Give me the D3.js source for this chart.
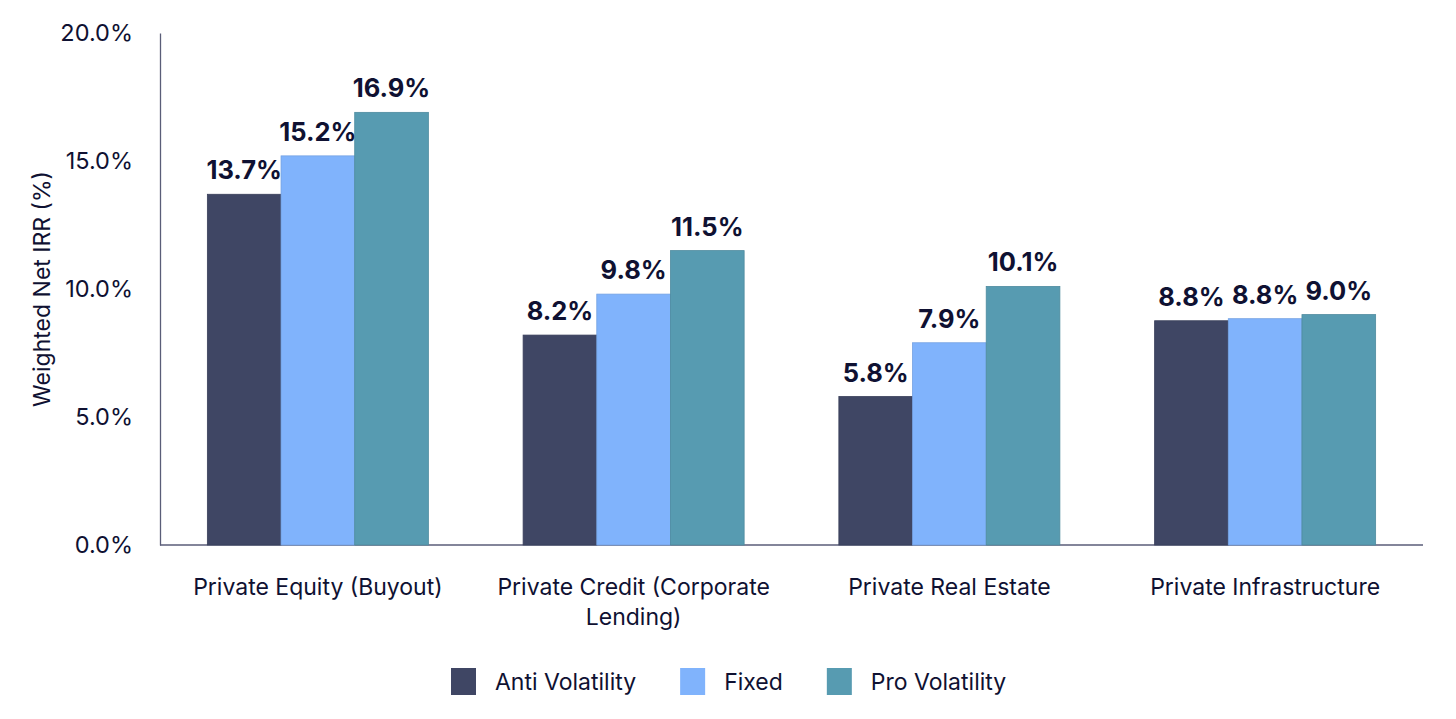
<!DOCTYPE html>
<html>
<head>
<meta charset="utf-8">
<script src="https://cdn.jsdelivr.net/npm/d3@7"></script>
<style>
  body { margin: 0; background: #fff; }
  svg { display: block; font-family: Inter, "Noto Sans", sans-serif; }
  .tick text { fill: #0f1132; }
</style>
</head>
<body>
<svg width="1456" height="719"></svg>
<script>
const categories = ['Private Equity (Buyout)', 'Private Credit (Corporate Lending)', 'Private Real Estate', 'Private Infrastructure'];
const seriesNames = ['Anti Volatility', 'Fixed', 'Pro Volatility'];
const antiVolatility = [13.7, 8.2, 5.8, 8.76];
const fixed = [15.2, 9.8, 7.9, 8.84];
const proVolatility = [16.9, 11.5, 10.1, 9.0];
const yTicks = [0, 5, 10, 15, 20];
const colors = ['#3f4664', '#80b3fc', '#579bb1'];

const seriesValues = [antiVolatility, fixed, proVolatility];
const rows = categories.map((c, i) => ({
  category: c,
  values: seriesNames.map((s, j) => ({ series: s, value: seriesValues[j][i], color: colors[j] }))
}));

const svg = d3.select('svg');
const plotLeft = 160, plotRight = 1423, plotTop = 33, plotBottom = 545;
const ink = '#0f1132';

const x0 = d3.scaleBand().domain(categories).range([plotLeft, plotRight]).paddingInner(0.3).paddingOuter(0.15);
const x1 = d3.scaleBand().domain(seriesNames).range([0, x0.bandwidth()]);
const y = d3.scaleLinear().domain([0, 20]).range([plotBottom, plotTop]);

// y axis
const yAxis = svg.append('g')
  .attr('transform', `translate(${plotLeft},0)`)
  .call(d3.axisLeft(y).tickValues(yTicks).tickSize(0).tickPadding(27).tickFormat((d) => d.toFixed(1) + '%'));
yAxis.select('.domain').attr('stroke', '#5a5d78').attr('stroke-width', 1.3);
yAxis.selectAll('text').attr('font-size', 23.5).attr('fill', ink).attr('font-weight', 400).attr('font-family', 'Inter, sans-serif');

// x axis
const xAxis = svg.append('g')
  .attr('transform', `translate(0,${plotBottom})`)
  .call(d3.axisBottom(x0).tickSize(0).tickPadding(0).tickFormat(''));
xAxis.select('.domain').attr('stroke', '#5a5d78').attr('stroke-width', 1.3).attr('d', `M${plotLeft},0H${plotRight}`);

// category labels with wrap
function wrap (textSel, width) {
  textSel.each(function (d) {
    const text = d3.select(this);
    const words = d.split(' ');
    let line = [];
    let tspan = text.append('tspan').attr('x', x0(d) + x0.bandwidth() / 2).attr('dy', 0);
    words.forEach((w) => {
      line.push(w);
      tspan.text(line.join(' '));
      if (tspan.node().getComputedTextLength() > width && line.length > 1) {
        line.pop();
        tspan.text(line.join(' '));
        line = [w];
        tspan = text.append('tspan').attr('x', x0(d) + x0.bandwidth() / 2).attr('dy', 30).text(w);
      }
    });
  });
}

svg.append('g')
  .selectAll('text')
  .data(categories)
  .enter()
  .append('text')
  .attr('y', 595)
  .attr('text-anchor', 'middle')
  .attr('font-size', 23)
  .attr('font-weight', 400)
  .attr('fill', ink)
  .call(wrap, 310);

// bars
const groups = svg.append('g')
  .selectAll('g')
  .data(rows)
  .enter()
  .append('g')
  .attr('transform', (d) => `translate(${x0(d.category)},0)`);

groups.selectAll('rect')
  .data((d) => d.values)
  .enter()
  .append('rect')
  .attr('x', (d) => x1(d.series))
  .attr('y', (d) => y(d.value))
  .attr('width', x1.bandwidth())
  .attr('height', (d) => y(0) - y(d.value))
  .attr('fill', (d) => d.color)
  .attr('stroke', (d) => d3.color(d.color).darker(0.3))
  .attr('stroke-width', 0.8);

groups.selectAll('text')
  .data((d) => d.values)
  .enter()
  .append('text')
  .attr('x', (d) => x1(d.series) + x1.bandwidth() / 2)
  .attr('y', (d) => y(d.value) - 15)
  .attr('text-anchor', 'middle')
  .attr('font-size', 25.5)
  .attr('font-weight', 700)
  .attr('fill', ink)
  .text((d) => d.value.toFixed(1) + '%');

// y title
svg.append('text')
  .attr('transform', `translate(50,${(plotTop + plotBottom) / 2}) rotate(-90)`)
  .attr('text-anchor', 'middle')
  .attr('font-size', 23)
  .attr('font-weight', 400)
  .attr('fill', ink)
  .text('Weighted Net IRR (%)');

// legend
const legend = svg.append('g').attr('transform', 'translate(451,668)');
let lx = 0;
seriesNames.forEach((s, i) => {
  const item = legend.append('g').attr('transform', `translate(${lx},0)`);
  item.append('rect').attr('width', 25).attr('height', 27).attr('fill', colors[i]);
  const t = item.append('text')
    .attr('x', 44)
    .attr('y', 22)
    .attr('font-size', 23)
    .attr('font-weight', 400)
    .attr('fill', ink)
    .text(s);
  lx += 44 + t.node().getComputedTextLength() + 44;
});
</script>
</body>
</html>
